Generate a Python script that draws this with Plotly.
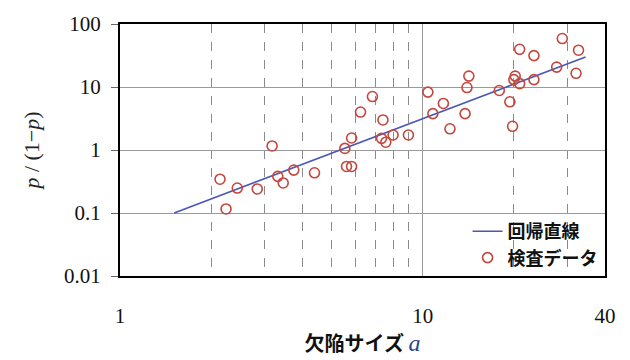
import plotly.graph_objects as go

# 検査データ (defect size a, p/(1-p))
data_a = [2.14, 2.24, 2.44, 2.84, 3.32, 3.46, 3.75, 4.39, 5.6, 5.82,
          3.18, 5.53, 5.82, 6.23, 6.82,
          7.39, 7.31, 7.55, 7.98, 8.97, 10.4, 10.8, 11.7, 12.3, 13.8,
          14.0, 14.2, 17.9, 19.4, 19.8, 20.0, 20.2, 20.9, 20.9, 23.3,
          23.3, 27.7, 28.9, 32.1, 32.7]
data_odds = [0.344, 0.116, 0.249, 0.241, 0.382, 0.30, 0.48, 0.435, 0.548, 0.548,
             1.16, 1.06, 1.55, 4.0, 7.06,
             3.0, 1.53, 1.33, 1.73, 1.73, 8.3, 3.78, 5.48, 2.17, 3.78,
             9.8, 14.9, 8.8, 5.82, 2.38, 13.1, 14.9, 11.3, 39.7, 31.5,
             13.1, 20.7, 58.8, 16.5, 38.4]

# 回帰直線 endpoints
reg_a = [1.51, 34.5]
reg_odds = [0.1, 30.0]

x_ticks = [1, 10, 40]
x_ticktext = ["1", "10", "40"]
x_minor = [2, 3, 4, 5, 6, 7, 8, 9, 20, 30]
y_ticks = [0.01, 0.1, 1, 10, 100]
y_ticktext = ["0.01", "0.1", "1", "10", "100"]

serif = "Liberation Serif"
cjk = "Noto Sans CJK JP"

fig = go.Figure()
fig.add_trace(go.Scatter(
    x=reg_a, y=reg_odds, mode="lines", name="<b>回帰直線</b>",
    line=dict(color="#4a56b8", width=1.6)))
fig.add_trace(go.Scatter(
    x=data_a, y=data_odds, mode="markers", name="<b>検査データ</b>",
    marker=dict(symbol="circle-open", size=10, color="#c4463c",
                line=dict(width=1.6, color="#c4463c"))))

fig.update_layout(
    width=630, height=360,
    margin=dict(l=120, r=25, t=22, b=73),
    paper_bgcolor="white", plot_bgcolor="white",
    showlegend=True,
    legend=dict(x=0.995, y=0.0, xanchor="right", yanchor="bottom",
                bgcolor="rgba(0,0,0,0)",
                font=dict(family=cjk, size=18, color="#111"),
                tracegroupgap=0, itemsizing="trace"),
)

fig.update_xaxes(
    type="log", range=[0, 1.60206],
    tickvals=x_ticks, ticktext=x_ticktext,
    tickfont=dict(family=serif, size=21, color="#111"),
    ticks="", ticklabelstandoff=20,
    showgrid=True, gridcolor="#9a9a9a", gridwidth=1.2,
    minor=dict(tickvals=x_minor, showgrid=True, griddash="dash",
               gridcolor="#8a8a8a", gridwidth=1, ticks=""),
    showline=True, mirror=True, linecolor="black", linewidth=2,
    title=dict(text="<b>欠陥サイズ</b> <span style='font-family:Liberation Serif;font-size:24px;color:#2b3f8c'><i>a</i></span>",
               font=dict(family=cjk, size=20, color="#111"), standoff=6),
    zeroline=False,
)
fig.update_yaxes(
    type="log", range=[-2, 2],
    tickvals=y_ticks, ticktext=y_ticktext,
    tickfont=dict(family=serif, size=21, color="#111"),
    ticks="outside", ticklen=7, tickcolor="#666", ticklabelstandoff=6,
    showgrid=True, gridcolor="#9a9a9a", gridwidth=1.2,
    showline=True, mirror=True, linecolor="black", linewidth=2,
    title=dict(text="<i>p</i> / (1−<i>p</i>)",
               font=dict(family=serif, size=22, color="#222"), standoff=18),
    zeroline=False,
)

fig.write_html("out.html")
